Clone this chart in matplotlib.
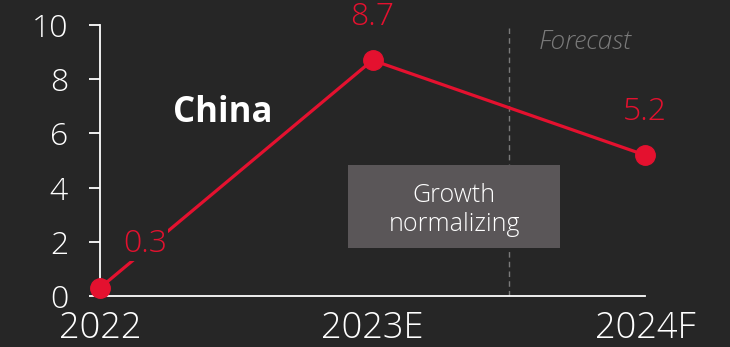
import matplotlib
matplotlib.use('Agg')
import matplotlib.pyplot as plt
from matplotlib.patches import Rectangle

years = ['2022', '2023E', '2024F']
growth = [0.3, 8.7, 5.2]
label_text = ['0.3', '8.7', '5.2']

bg = '#262626'
red = '#e4112f'

plt.rcParams['font.family'] = ['Open Sans', 'DejaVu Sans']

fig = plt.figure(figsize=(7.3, 3.47), dpi=100, facecolor=bg)
ax = fig.add_axes([100/730, 1-296/347, 545/730, 271/347])
ax.set_facecolor(bg)

x = list(range(len(years)))
ax.plot(x, growth, color=red, lw=2.3, marker='o', ms=14, zorder=5, clip_on=False)

# value labels, shifted up from each point (first one also to the right)
offsets = [(45, 1.62), (0, 1.6), (0, 1.6)]
for xi, yi, t, (dx, dy) in zip(x, growth, label_text, offsets):
    ax.text(xi + dx/272.5, yi + dy, t, color=red, fontsize=23, ha='center', va='center',
            fontweight='light', clip_on=False, zorder=8,
            bbox=dict(facecolor=bg, edgecolor='none', pad=1))

ax.set_xlim(0, 2)
ax.set_ylim(0, 10)
ax.set_yticks([0, 2, 4, 6, 8, 10])
ax.set_xticks(x)
ax.set_xticklabels(years)

for s in ['top', 'right']:
    ax.spines[s].set_visible(False)
for s in ['left', 'bottom']:
    ax.spines[s].set_color('white')
    ax.spines[s].set_linewidth(1.3)
ax.tick_params(axis='y', colors='white', length=8, width=1.3, labelsize=23, pad=15)
ax.tick_params(axis='x', colors='white', length=0, labelsize=26, pad=10)
for lbl in ax.get_xticklabels() + ax.get_yticklabels():
    lbl.set_fontweight('light')

# forecast divider
ax.axvline(1.5, ymax=0.99, color='#7a7a7a', lw=1, ls=(0, (4, 3)), zorder=1)
ax.text(1.61, 9.35, 'Forecast', color='#7a7a7a', fontsize=19, style='italic',
        fontweight='light', ha='left', va='center')

ax.text(0.45, 6.75, 'China', color='white', fontsize=25, fontweight='bold',
        ha='center', va='center')

ax.add_patch(Rectangle((0.910, 1.77), 0.778, 3.06, facecolor='#5a5658',
                       edgecolor='none', zorder=6))
ax.text(1.3, 3.17, 'Growth\nnormalizing', color='white', fontsize=18, ha='center',
        va='center', linespacing=1.25, zorder=7, fontweight='light')

fig.savefig('out.png', dpi=100, facecolor=bg)
